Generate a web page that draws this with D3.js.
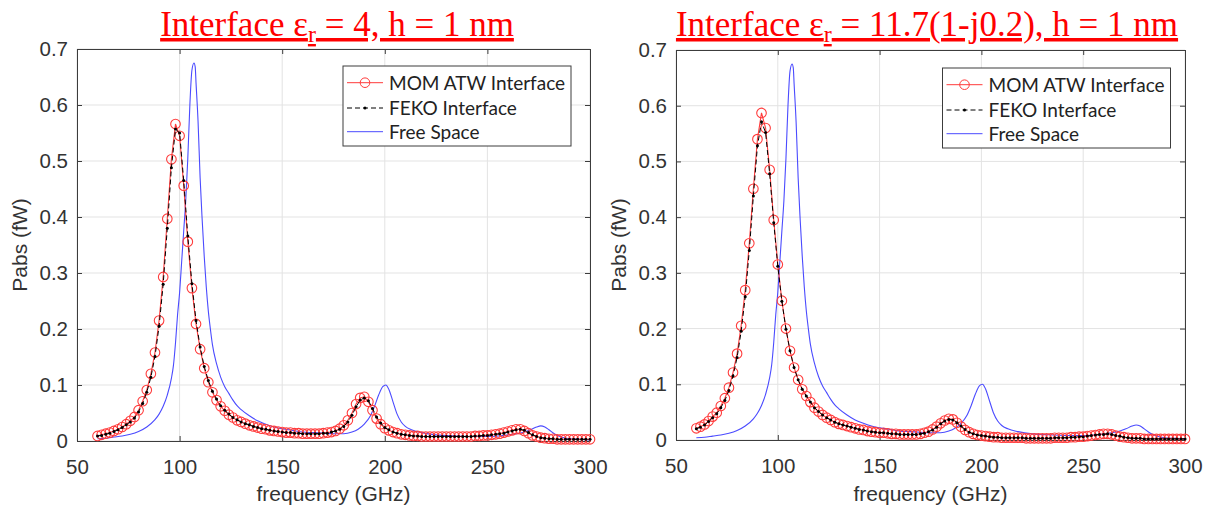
<!DOCTYPE html>
<html>
<head>
<meta charset="utf-8">
<script src="https://cdn.jsdelivr.net/npm/d3@7"></script>
<style>
  body { margin: 0; background: #fff; }
  svg { display: block; }
</style>
</head>
<body>
<svg id="chart" width="1212" height="512"></svg>
<script>
// frequency sweep (GHz) used by both solvers
const freq = [
  60, 62, 64, 66, 68, 70, 72, 74, 76, 78,
  80, 82, 84, 86, 88, 90, 92, 94, 96, 98,
  100, 102, 104, 106, 108, 110, 112, 114, 116, 118,
  120, 122, 124, 126, 128, 130, 132, 134, 136, 138,
  140, 142, 144, 146, 148, 150, 152, 154, 156, 158,
  160, 162, 164, 166, 168, 170, 172, 174, 176, 178,
  180, 182, 184, 186, 188, 190, 192, 194, 196, 198,
  200, 202, 204, 206, 208, 210, 212, 214, 216, 218,
  220, 222, 224, 226, 228, 230, 232, 234, 236, 238,
  240, 242, 244, 246, 248, 250, 252, 254, 256, 258,
  260, 262, 264, 266, 268, 270, 272, 274, 276, 278,
  280, 282, 284, 286, 288, 290, 292, 294, 296, 298,
  300
]

// Pabs (fW), eps_r = 4
const momLeft = [
  .009, .011, .013, .015, .018, .021, .025, .030, .036, .043,
  .055, .071, .091, .120, .158, .215, .293, .397, .503, .566,
  .545, .456, .356, .273, .209, .164, .130, .105, .087, .073,
  .062, .054, .047, .042, .037, .034, .031, .028, .026, .024,
  .022, .021, .019, .018, .017, .016, .015, .015, .014, .014,
  .013, .013, .013, .013, .013, .014, .015, .016, .018, .022,
  .028, .037, .050, .066, .077, .079, .070, .055, .040, .030,
  .023, .019, .016, .014, .012, .011, .010, .009, .009, .008,
  .008, .008, .008, .008, .008, .008, .008, .008, .008, .008,
  .008, .008, .009, .009, .010, .010, .011, .012, .013, .015,
  .017, .019, .021, .021, .018, .014, .010, .008, .006, .005,
  .004, .004, .003, .003, .003, .003, .003, .003, .003, .003,
  .003
]
const fekoLeft = [
  .009, .010, .012, .014, .017, .020, .024, .029, .034, .041,
  .052, .067, .087, .114, .151, .205, .280, .380, .488, .557,
  .550, .465, .366, .281, .215, .168, .133, .108, .089, .075,
  .063, .055, .048, .042, .038, .034, .031, .029, .026, .024,
  .022, .021, .019, .018, .017, .016, .015, .015, .014, .014,
  .013, .013, .013, .013, .013, .014, .014, .016, .018, .021,
  .026, .034, .046, .061, .073, .077, .072, .058, .043, .032,
  .024, .020, .016, .014, .012, .011, .010, .009, .009, .008,
  .008, .008, .008, .008, .008, .008, .008, .008, .008, .008,
  .008, .008, .009, .009, .010, .010, .011, .012, .013, .014,
  .016, .018, .020, .021, .019, .015, .011, .008, .006, .005,
  .004, .004, .003, .003, .003, .003, .003, .003, .003, .003,
  .003
]

// Pabs (fW), eps_r = 11.7(1-j0.2)
const momRight = [
  .021, .024, .028, .034, .042, .049, .061, .075, .094, .121,
  .155, .205, .269, .353, .451, .540, .587, .560, .485, .395,
  .315, .250, .200, .160, .130, .108, .091, .079, .068, .058,
  .051, .045, .040, .036, .032, .029, .027, .025, .023, .021,
  .019, .018, .016, .015, .014, .013, .013, .012, .011, .011,
  .010, .010, .010, .010, .010, .011, .013, .015, .019, .024,
  .030, .035, .038, .037, .031, .024, .018, .014, .011, .009,
  .008, .007, .006, .005, .005, .004, .004, .004, .004, .004,
  .004, .003, .003, .003, .003, .003, .003, .003, .004, .004,
  .004, .004, .005, .005, .006, .006, .007, .008, .009, .010,
  .011, .011, .010, .008, .006, .005, .004, .003, .003, .003,
  .002, .002, .002, .002, .002, .002, .002, .002, .002, .002,
  .002
]
const fekoRight = [
  .020, .023, .027, .033, .040, .047, .058, .071, .089, .115,
  .148, .195, .257, .340, .438, .528, .571, .552, .478, .390,
  .312, .249, .199, .160, .130, .108, .091, .079, .068, .058,
  .051, .045, .040, .036, .032, .029, .027, .025, .023, .021,
  .019, .018, .016, .015, .014, .013, .013, .012, .011, .011,
  .010, .010, .010, .010, .010, .011, .012, .015, .018, .023,
  .029, .034, .037, .036, .031, .025, .019, .014, .011, .009,
  .008, .007, .006, .005, .005, .004, .004, .004, .004, .004,
  .004, .003, .003, .003, .003, .003, .003, .003, .004, .004,
  .004, .004, .005, .005, .006, .006, .007, .008, .009, .010,
  .010, .011, .010, .008, .007, .005, .004, .003, .003, .003,
  .002, .002, .002, .002, .002, .002, .002, .002, .002, .002,
  .002
]

// free-space reference (same in both panels)
const freeFreq = [
  60, 64, 68, 72, 76, 80, 84, 88, 90, 92,
  94, 96, 97, 98, 99, 100, 101, 102, 103, 104,
  105, 106, 107, 107.6, 108, 109, 110, 111, 112, 113,
  114, 115, 116, 118, 120, 122, 124, 126, 128, 130,
  134, 138, 142, 146, 150, 155, 160, 165, 170, 175,
  180, 184, 187, 190, 193, 195, 197, 199, 200.5, 202,
  204, 206, 208, 210, 213, 218, 225, 235, 245, 252,
  258, 264, 268, 271, 274, 276, 278, 280, 283, 286,
  290, 295, 300
]
const freeSpace = [
  .004, .005, .007, .009, .012, .017, .025, .038, .048, .062,
  .082, .112, .135, .175, .225, .265, .320, .375, .430, .505,
  .600, .662, .675, .668, .640, .570, .470, .395, .330, .275,
  .232, .200, .172, .138, .114, .097, .085, .073, .063, .056,
  .045, .036, .030, .025, .022, .019, .016, .015, .014, .013,
  .013, .016, .021, .030, .045, .062, .082, .097, .100, .092,
  .070, .048, .034, .026, .020, .015, .011, .009, .008, .008,
  .010, .013, .016, .020, .025, .027, .025, .020, .012, .007,
  .004, .003, .002
]

const xTicks = [50, 100, 150, 200, 250, 300]
const yTicks = [0, 0.1, 0.2, 0.3, 0.4, 0.5, 0.6, 0.7]
const legendLabels = ['MOM ATW Interface', 'FEKO Interface', 'Free Space']

const RED = '#ff3b3b'
const BLUE = '#4b4bff'
const AXIS = '#3c3c3c'

const svg = d3.select('#chart')

function drawPanel(p) {
  const x = d3.scaleLinear().domain([50, 300]).range([p.left, p.right])
  const y = d3.scaleLinear().domain([0, 0.7]).range([p.bottom, p.top])
  const g = svg.append('g')

  // title (red, underlined, with subscript r)
  const t = g.append('text')
    .attr('x', p.titleX).attr('y', 36)
    .attr('text-anchor', 'middle')
    .attr('font-family', 'Liberation Serif, Times New Roman, serif')
    .attr('font-size', 35)
    .attr('fill', '#ff0000')
    .style('text-decoration', 'underline')
  t.append('tspan').text('Interface ε')
  t.append('tspan').attr('font-size', 24).attr('dy', 6).text('r')
  t.append('tspan').attr('dy', -6).text(p.titleRest)

  // grid
  g.append('g').selectAll('line').data(xTicks).join('line')
    .attr('x1', d => x(d)).attr('x2', d => x(d))
    .attr('y1', p.top).attr('y2', p.bottom)
    .attr('stroke', '#e3e3e3').attr('stroke-width', 1)
  g.append('g').selectAll('line').data(yTicks).join('line')
    .attr('x1', p.left).attr('x2', p.right)
    .attr('y1', d => y(d)).attr('y2', d => y(d))
    .attr('stroke', '#e3e3e3').attr('stroke-width', 1)

  // axes, ticks inward on all four sides
  const fmtY = d => d === 0 ? '0' : d3.format('.1f')(d)
  const bottomAx = g.append('g').attr('transform', `translate(0,${p.bottom})`)
    .call(d3.axisBottom(x).tickValues(xTicks).tickSizeInner(-5).tickSizeOuter(0).tickPadding(18).tickFormat(d3.format('d')))
  const leftAx = g.append('g').attr('transform', `translate(${p.left},0)`)
    .call(d3.axisLeft(y).tickValues(yTicks).tickSizeInner(-5).tickSizeOuter(0).tickPadding(9).tickFormat(fmtY))
  const topAx = g.append('g').attr('transform', `translate(0,${p.top})`)
    .call(d3.axisTop(x).tickValues(xTicks).tickSizeInner(-5).tickSizeOuter(0).tickFormat(''))
  const rightAx = g.append('g').attr('transform', `translate(${p.right},0)`)
    .call(d3.axisRight(y).tickValues(yTicks).tickSizeInner(-5).tickSizeOuter(0).tickFormat(''))
  ;[bottomAx, leftAx, topAx, rightAx].forEach(ax => {
    ax.select('.domain').attr('stroke', AXIS)
    ax.selectAll('.tick line').attr('stroke', AXIS)
    ax.selectAll('.tick text')
      .attr('fill', '#333')
      .attr('font-family', 'Liberation Sans, Arial, sans-serif')
      .attr('font-size', 20.5)
  })

  // axis labels
  g.append('text')
    .attr('x', (p.left + p.right) / 2).attr('y', 501)
    .attr('text-anchor', 'middle')
    .attr('font-family', 'Liberation Sans, Arial, sans-serif')
    .attr('font-size', 21).attr('fill', '#333')
    .text('frequency (GHz)')
  g.append('text')
    .attr('transform', `translate(${p.left - 50},${(p.top + p.bottom) / 2}) rotate(-90)`)
    .attr('text-anchor', 'middle')
    .attr('font-family', 'Liberation Sans, Arial, sans-serif')
    .attr('font-size', 21).attr('fill', '#333')
    .text('Pabs (fW)')

  const line = d3.line().x(d => x(d[0])).y(d => y(d[1]))

  // free space
  const free = freeFreq.map((f, i) => [f, freeSpace[i]])
  g.append('path').datum(free)
    .attr('fill', 'none').attr('stroke', BLUE).attr('stroke-width', 1.1)
    .attr('d', line.curve(d3.curveMonotoneX))

  // MOM ATW
  const mom = freq.map((f, i) => [f, p.mom[i]])
  g.append('path').datum(mom)
    .attr('fill', 'none').attr('stroke', RED).attr('stroke-width', 1.1)
    .attr('d', line.curve(d3.curveLinear))
  g.append('g').selectAll('circle').data(mom).join('circle')
    .attr('cx', d => x(d[0])).attr('cy', d => y(d[1])).attr('r', 4.8)
    .attr('fill', 'none').attr('stroke', RED).attr('stroke-width', 1.1)

  // FEKO
  const feko = freq.map((f, i) => [f, p.feko[i]])
  g.append('path').datum(feko)
    .attr('fill', 'none').attr('stroke', '#000').attr('stroke-width', 1)
    .attr('stroke-dasharray', '5,3')
    .attr('d', line.curve(d3.curveLinear))
  g.append('g').selectAll('circle').data(feko).join('circle')
    .attr('cx', d => x(d[0])).attr('cy', d => y(d[1])).attr('r', 1.5)
    .attr('fill', '#000')

  // legend
  const lg = g.append('g').attr('transform', `translate(${p.legX},${p.legY})`)
  lg.append('rect').attr('width', 228).attr('height', 80)
    .attr('fill', '#fff').attr('stroke', AXIS).attr('stroke-width', 1)
  const rows = [16.7, 42, 65.7]
  const styles = [
    { stroke: RED, dash: null, mark: 'circle' },
    { stroke: '#000', dash: '5,3', mark: 'dot' },
    { stroke: BLUE, dash: null, mark: null }
  ]
  legendLabels.forEach((lab, i) => {
    const ry = rows[i]
    lg.append('line').attr('x1', 4).attr('x2', 40).attr('y1', ry).attr('y2', ry)
      .attr('stroke', styles[i].stroke).attr('stroke-width', 1)
      .attr('stroke-dasharray', styles[i].dash)
    if (styles[i].mark === 'circle') {
      lg.append('circle').attr('cx', 22).attr('cy', ry).attr('r', 4.8)
        .attr('fill', 'none').attr('stroke', RED)
    } else if (styles[i].mark === 'dot') {
      lg.append('circle').attr('cx', 22).attr('cy', ry).attr('r', 1.5).attr('fill', '#000')
    }
    lg.append('text').attr('x', 46).attr('y', ry + 7)
      .attr('font-family', 'Lato, Open Sans, sans-serif')
      .attr('font-size', 19).attr('fill', '#222')
      .text(lab)
  })
}

drawPanel({
  left: 77, right: 590, top: 49, bottom: 441,
  mom: momLeft, feko: fekoLeft,
  titleX: 337, titleRest: ' = 4, h = 1 nm',
  legX: 343, legY: 66
})
drawPanel({
  left: 676, right: 1185, top: 50, bottom: 440,
  mom: momRight, feko: fekoRight,
  titleX: 927, titleRest: ' = 11.7(1-j0.2), h = 1 nm',
  legX: 942.5, legY: 68
})
</script>
</body>
</html>
